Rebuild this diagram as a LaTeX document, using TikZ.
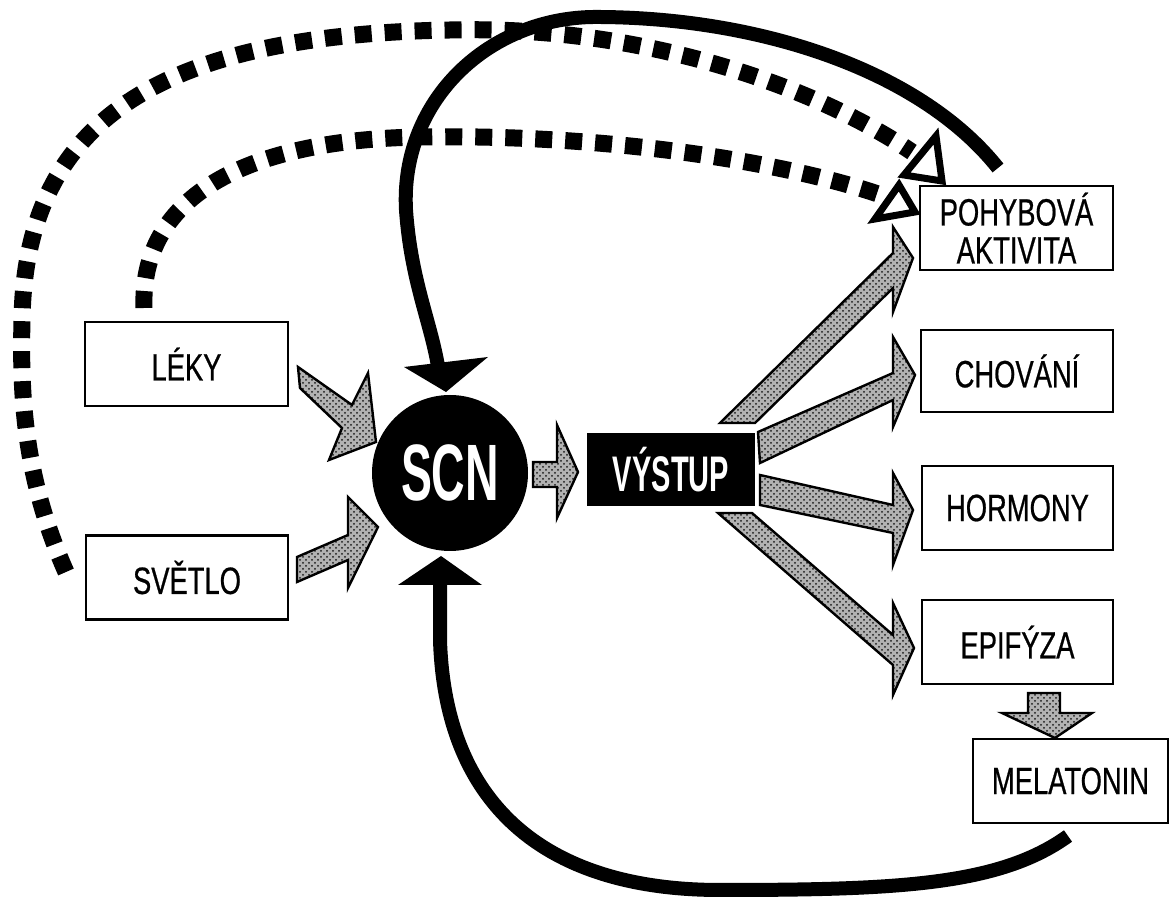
\documentclass[tikz,border=0pt]{standalone}
\usepackage{fontspec}
\newfontfamily\bxfont[FakeStretch=0.72,FakeBold=0.6]{Liberation Sans}
\newfontfamily\hvfont[FakeStretch=0.58]{Liberation Sans}
\usetikzlibrary{patterns}
\begin{document}
\begin{tikzpicture}[x=0.5pt,y=-0.5pt,
  box/.style={draw,line width=1.25pt,minimum width=#1,minimum height=42pt,inner sep=0pt,
    font=\bxfont\fontsize{19}{19}\selectfont,align=center},
  shade/.style={draw,line width=1.2pt,line join=miter,preaction={fill=black!30},
    pattern=crosshatch dots,pattern color=black!90},
  thick curve/.style={line width=7pt},
  dotline/.style={line width=8.5pt,dash pattern=on 8.5pt off 6.5pt},
  hollow/.style={draw,fill=white,line width=3.5pt,line join=miter},
  solidhead/.style={fill=black}]
\fill[white] (0,0) rectangle (1169,908);
\useasboundingbox (0,0) rectangle (1169,908);

% boxes
\node[box=101.5pt] (leky) at (186.5,364) {LÉKY};
\node[box=101pt] (svetlo) at (187,577.5) {SVĚTLO};
\node[box=96.5pt] (pohyb) at (1016.5,228) {POHYBOVÁ\\AKTIVITA};
\node[box=96pt,minimum height=41pt] (chov) at (1017,371) {CHOVÁNÍ};
\node[box=95.5pt] (horm) at (1017.5,508) {HORMONY};
\node[box=95.5pt] (epif) at (1017.5,642) {EPIFÝZA};
\node[box=97.5pt] (melat) at (1070.5,781) {MELATONIN};

% SCN and VYSTUP
\node[circle,fill=black,minimum size=78pt,inner sep=0pt,text=white,
  font=\hvfont\bfseries\fontsize{40}{40}\selectfont] (scn) at (450,473) {SCN};
\node[fill=black,minimum width=84pt,minimum height=36.5pt,inner sep=0pt,text=white,
  font=\hvfont\bfseries\fontsize{25}{25}\selectfont] (vystup) at (671,469.5) {VÝSTUP};

% curve end coordinates
\coordinate (topstart) at (998,168);
\coordinate (topend) at (438,366);
\coordinate (botstart) at (1068,836);
\coordinate (botend) at (440,584);
\coordinate (odstart) at (66,572);
\coordinate (odend) at (912,152);
\coordinate (idstart) at (144,308);
\coordinate (idend) at (884,196);

% dotted feedback lines
\draw[dotline] (odstart) .. controls (25,480) and (20,400) .. (22,320)
  .. controls (25,120) and (160,35) .. (450,30)
  .. controls (650,25) and (820,90) .. (odend);
\draw[dotline] (idstart) .. controls (140,200) and (240,140) .. (420,137)
  .. controls (600,134) and (780,160) .. (idend);
\draw[hollow] (936,136) -- (942,181) -- (904,175) -- cycle;
\draw[hollow] (899,185) -- (915,212) -- (875,219) -- cycle;

% solid feedback curves
\draw[thick curve] (topstart) .. controls (920,70) and (760,18) .. (600,17)
  .. controls (490,15) and (400,100) .. (406,210)
  .. controls (411,280) and (430,320) .. (topend);
\fill[solidhead] (404,367) -- (488,357) -- (446,392) -- cycle;
\draw[thick curve] (botstart) .. controls (1000,885) and (900,890) .. (720,890)
  .. controls (540,890) and (445,800) .. (440,640) -- (botend);
\fill[solidhead] (398,585) -- (482,585) -- (441,556) -- cycle;

% shaded arrows
\draw[shade] (298,367) -- (352,405) -- (368,373) -- (376,442) -- (329,460) -- (342,428) -- (300,388) -- cycle;
\draw[shade] (297,557) -- (348,535) -- (348,497) -- (378,527) -- (348,588) -- (348,560) -- (297,582) -- cycle;
\draw[shade] (533,462) -- (557,462) -- (557,425) -- (578,472) -- (557,518) -- (557,487) -- (533,487) -- cycle;
\draw[shade] (720,423) -- (893,253) -- (893,227) -- (913,258) -- (893,312) -- (893,288) -- (755,423) -- cycle;
\draw[shade] (758,432) -- (893,373) -- (893,337) -- (915,375) -- (893,427) -- (893,400) -- (760,463) -- cycle;
\draw[shade] (760,475) -- (893,505) -- (893,473) -- (913,510) -- (893,565) -- (893,533) -- (760,505) -- cycle;
\draw[shade] (718,513) -- (752,513) -- (893,635) -- (893,603) -- (914,648) -- (893,695) -- (893,665) -- cycle;
\draw[shade] (1028,693) -- (1060,693) -- (1060,713) -- (1092,713) -- (1055,738) -- (1002,713) -- (1028,713) -- cycle;
\end{tikzpicture}
\end{document}
